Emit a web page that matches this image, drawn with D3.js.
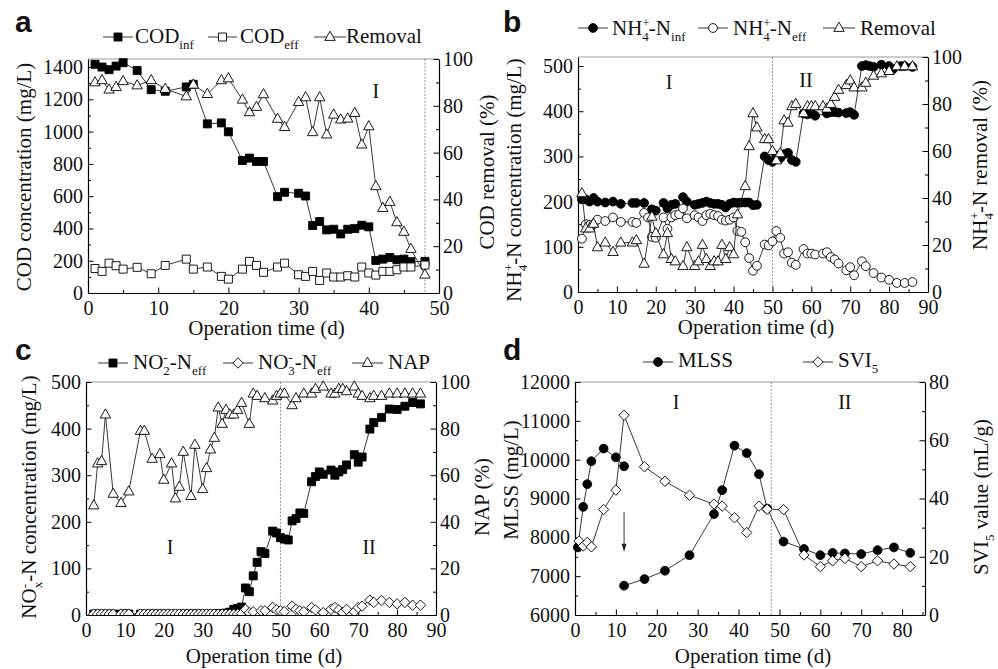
<!DOCTYPE html>
<html>
<head>
<meta charset="utf-8">
<script src="https://cdnjs.cloudflare.com/ajax/libs/d3/7.8.5/d3.min.js"></script>
<style>
  body { margin: 0; background: #fff; }
  text { font-family: 'Liberation Serif', 'Times New Roman', serif; fill: #111; }
</style>
</head>
<body>
<script>
// ---------- panel a : COD ----------
var codDays = [1,2,3,4,5,7,9,11,14,15,17,19,20,22,23,24,25,27,28,30,31,32,33,34,35,36,37,38,39,40,41,42,43,44,45,46,48];
var codInf = [1417,1400,1384,1406,1427,1379,1260,1250,1277,1293,1048,1054,999,821,836,815,815,597,624,618,601,418,443,391,395,366,395,399,420,410,202,210,220,206,210,194,196];
var codEff = [152,134,185,169,148,159,119,171,210,148,161,103,86,148,196,171,128,161,185,113,103,134,78,124,99,99,107,99,161,124,111,134,134,144,161,161,173];
var codRemoval = [90.0,90.9,86.9,88.0,90.5,88.7,90.9,87.2,84.0,89.0,85.0,90.9,91.7,82.6,77.2,79.5,84.9,74.4,70.9,81.6,83.6,68.7,83.6,67.7,76.2,74.1,74.5,76.9,63.4,71.2,45.6,36.3,38.9,30.2,26.1,18.8,7.8];

// ---------- panel b : NH4+-N ----------
var nhInfDays = [1,2,3,4,5,7,9,11,14,15,17,19,20,22,23,24,25,27,28,30,31,32,33,34,35,36,37,38,39,40,41,42,43,44,45,46,48,49,50,51,52,53,54,55,56,58,59,60,61,64,65,66,67,69,70,71,73,74,75,76,78,80,81,83,84,86];
var nhInf = [205,205,200,208,200,198,200,195,197,197,197,183,180,197,185,193,195,210,200,193,195,197,200,197,195,195,193,187,195,198,197,198,198,198,192,193,300,292,288,302,296,305,308,292,288,395,393,395,390,395,398,398,397,396,398,392,500,502,500,498,503,500,493,500,500,498];
var nhEffDays = [1,2,3,4,5,7,9,11,14,15,17,18,19,20,22,23,24,25,26,27,28,30,31,32,33,34,35,36,37,38,39,40,41,42,43,44,45,46,48,49,50,51,52,53,54,55,56,58,59,60,61,63,64,65,66,67,69,70,71,73,74,76,78,80,82,84,86];
var nhEff = [118,150,148,150,160,157,165,155,155,153,175,165,122,120,165,140,165,170,172,185,163,170,165,157,170,173,170,168,160,158,160,165,135,133,110,75,47,58,105,103,112,135,120,85,88,65,60,95,85,85,83,85,88,77,72,63,48,55,37,68,57,42,32,27,20,20,22];
var nhRemDays = [1,2,3,4,5,7,9,11,14,15,17,19,20,22,23,24,25,27,28,30,31,32,33,34,35,36,37,38,39,40,41,43,44,45,46,48,49,50,51,52,53,54,55,56,58,59,60,61,63,64,65,66,67,69,70,71,73,74,76,78,80,82,84,86];
var nhRemoval = [42,27,27,29,19,21,17,21,21,22,12,32,25,16,25,14,13,11,19,11,13,20,14,11,13,13,20,14,19,16,33,45,62,76,70,65,65,60,56,59,73,72,79,80,76,79,79,79,79,78,80,83,86,88,90,87,87,89,92,93,94,96,96,96];

// ---------- panel c : NOx-N and NAP ----------
var no2Days = [2,3,4,5,6,7,9,10,11,14,15,16,17,18,19,20,21,22,23,24,25,26,27,28,29,30,31,32,33,34,35,36,37,38,39,40,41,42,43,44,45,46,48,49,50,51,52,53,54,55,56,58,59,60,61,63,64,65,66,67,69,70,71,73,74,76,78,80,82,84,86];
var no2 = [2,2,2,2,2,2,2,2,2,2,2,2,2,2,2,2,2,2,2,2,2,2,2,2,2,2,2,2,2,3,3,4,6,12,14,17,58,50,84,113,136,132,180,176,166,163,161,202,207,219,218,286,297,307,302,311,300,307,312,322,344,328,339,399,413,424,442,441,448,456,453];
var no3Days = [2,3,4,5,6,7,9,10,11,14,15,16,17,18,19,20,21,22,23,24,25,26,27,28,29,30,31,32,33,34,35,36,37,38,39,40,41,42,43,45,46,48,49,50,51,53,54,55,56,58,59,61,63,64,65,66,67,69,70,71,73,74,76,78,80,82,84,86];
var no3 = [2,2,2,2,2,2,2,2,2,2,2,2,2,2,2,2,2,2,2,2,2,2,2,2,2,2,2,2,2,2,2,2,2,2,2,3,12,5,7,9,9,16,11,9,7,19,12,9,7,16,11,5,12,16,11,5,12,7,16,19,32,27,31,27,24,27,21,21];
var napDays = [2,3,4,5,7,9,11,14,15,17,19,20,22,23,24,25,27,28,30,31,32,33,34,35,36,37,38,39,40,42,43,44,46,48,49,50,51,53,54,56,58,59,61,63,64,65,66,67,69,70,71,73,74,76,78,80,82,84,86];
var nap = [47,65,66,86,52,48,53,79,79,67,69,58,65,50,55,70,51,73,54,63,71,76,89,82,88,86,86,88,91,82,95,94,93,92,94,95,95,90,93,95,95,97,98,95,95,97,97,96,98,95,94,93,94,94,95,95,95,95,95];

// ---------- panel d : MLSS and SVI5 (null = break after sludge discharge) ----------
var mlssDays = [0.7,2,3,4,7,10,12,null,12,17,22,28,34,36,39,42,45,47,51,56,60,63,66,70,74,78,82];
var mlss = [7740,8785,9370,9960,10285,10060,9830,null,6755,6925,7140,7540,8600,9215,10360,10170,9625,8740,7890,7700,7540,7600,7585,7570,7670,7740,7600];
var sviDays = [1,2,3,4,7,10,12,17,22,28,34,36,39,42,45,47,51,56,60,63,66,70,74,78,82];
var svi = [25.4,23.7,24.9,23.4,36.2,42.9,68.6,50.9,45.9,41.1,38.1,37.4,33.4,28.3,37.4,36.3,36.2,20.6,16.6,18.6,19.4,16.6,18.6,17.5,16.6];

var serif = "'Liberation Serif', 'Times New Roman', serif";
var svg = d3.select("body").append("svg").attr("width", 998).attr("height", 669);

function shape(type) {
  if (type == "square") return "M-4,-4h8v8h-8z";
  if (type == "circle") return "M4.4,0A4.4,4.4 0 1,1 -4.4,0A4.4,4.4 0 1,1 4.4,0Z";
  if (type == "triangle") return "M0,-5.8L5.2,3.4L-5.2,3.4Z";
  return "M0,-5.2L5.2,0L0,5.2L-5.2,0Z";
}

// text with sub / superscripts; "subb" puts the subscript under the previous superscript
function rich(t, parts, fs) {
  var cur = 0, prev = null;
  parts.forEach(function(p) {
    var s = typeof p == "string" ? p : p[0];
    var mode = typeof p == "string" ? "" : p[1];
    var target = 0, size = fs, dx = 0;
    if (mode == "sup") { target = -0.36 * fs; size = 0.62 * fs; }
    if (mode == "sub" || mode == "subb") { target = 0.3 * fs; size = 0.62 * fs; }
    if (mode == "subb" && prev) dx = -prev.node().getComputedTextLength();
    prev = t.append("tspan").attr("dy", target - cur).attr("dx", dx)
      .style("font-size", size + "px").text(s);
    cur = target;
  });
}

function drawAxis(g, mk, scale, tr, major, minor, pad) {
  g.append("g").attr("transform", tr)
    .call(mk(scale).tickValues(minor).tickSize(-3).tickFormat(""))
    .call(function(s) { s.select(".domain").remove(); });
  var a = g.append("g").attr("transform", tr)
    .call(mk(scale).tickValues(major).tickSizeInner(-5.5).tickSizeOuter(0)
      .tickPadding(pad).tickFormat(d3.format("d")));
  a.attr("font-family", serif).attr("font-size", 20);
  a.selectAll("text").attr("fill", "#111");
  a.select(".domain").attr("stroke-width", 1.2);
  g.selectAll(".tick line").attr("stroke-width", 1);
}

function panel(p) {
  var x = d3.scaleLinear().domain(p.xDom).range([p.l, p.r]);
  var yL = d3.scaleLinear().domain(p.yLDom).range([p.b, p.t]);
  var yR = d3.scaleLinear().domain(p.yRDom).range([p.b, p.t]);
  var g = svg.append("g");
  g.append("line").attr("x1", p.l).attr("x2", p.r).attr("y1", p.t).attr("y2", p.t)
    .attr("stroke", "#999").attr("stroke-width", 1);
  drawAxis(g, d3.axisBottom, x, "translate(0," + p.b + ")", p.xTicks, p.xMinor, 8);
  drawAxis(g, d3.axisLeft, yL, "translate(" + p.l + ",0)", p.yLTicks, p.yLMinor, 5);
  drawAxis(g, d3.axisRight, yR, "translate(" + p.r + ",0)", p.yRTicks, p.yRMinor, 4);
  // phase divider
  g.append("line").attr("x1", x(p.divide)).attr("x2", x(p.divide)).attr("y1", p.t).attr("y2", p.b)
    .attr("stroke", "#777").attr("stroke-width", 0.8).attr("stroke-dasharray", "2,1.5");
  var cx = (p.l + p.r) / 2 + 3;
  g.append("text").attr("x", cx).attr("y", p.b + p.titleOff).attr("text-anchor", "middle")
    .style("font-size", "21px").text("Operation time (d)");
  var tl = g.append("text").attr("text-anchor", "middle")
    .attr("transform", "translate(" + p.ltX + "," + p.ltY + ") rotate(-90)");
  rich(tl, p.lTitle, 21);
  var tr = g.append("text").attr("text-anchor", "middle")
    .attr("transform", "translate(" + p.rtX + "," + p.rtY + ") rotate(-90)");
  rich(tr, p.rTitle, 21);
  g.append("text").attr("x", p.letterX).attr("y", p.letterY)
    .style("font-family", "'Liberation Sans', Arial, sans-serif").style("font-weight", "bold")
    .style("font-size", "30px").text(p.letter);
  var plot = g.append("g");
  if (p.clip) {
    svg.append("clipPath").attr("id", p.clip).append("rect")
      .attr("x", p.l).attr("y", p.t - 8).attr("width", p.r - p.l).attr("height", p.b - p.t + 8);
    plot.attr("clip-path", "url(#" + p.clip + ")");
  }
  return { g: g, plot: plot, x: x, yL: yL, yR: yR };
}

function series(g, x, y, days, vals, type, filled) {
  var pts = days.map(function(d, i) { return [d, vals[i]]; });
  g.append("path").datum(pts)
    .attr("d", d3.line().defined(function(d) { return d[0] != null && d[1] != null; })
      .x(function(d) { return x(d[0]); }).y(function(d) { return y(d[1]); }))
    .attr("fill", "none").attr("stroke", "#222").attr("stroke-width", 0.9);
  g.selectAll(null).data(pts.filter(function(d) { return d[1] != null; })).enter()
    .append("path").attr("d", shape(type))
    .attr("transform", function(d) { return "translate(" + x(d[0]) + "," + y(d[1]) + ")"; })
    .attr("fill", filled ? "#000" : "#fff").attr("stroke", "#000").attr("stroke-width", 0.9);
}

function legendItem(x0, x1, y, type, filled, parts, tx, ty) {
  svg.append("line").attr("x1", x0).attr("x2", x1).attr("y1", y).attr("y2", y)
    .attr("stroke", "#222").attr("stroke-width", 0.9);
  svg.append("path").attr("d", shape(type))
    .attr("transform", "translate(" + ((x0 + x1) / 2) + "," + y + ")")
    .attr("fill", filled ? "#000" : "#fff").attr("stroke", "#000").attr("stroke-width", 0.9);
  rich(svg.append("text").attr("x", tx).attr("y", ty), parts, 21);
}

function phaseLabel(P, d, v, s) {
  P.g.append("text").attr("x", P.x(d)).attr("y", P.yR(v)).attr("dy", "0.35em")
    .attr("text-anchor", "middle").style("font-size", "20px").text(s);
}

// ---------- a ----------
var A = panel({ l: 88, r: 439, t: 59, b: 293, xDom: [0, 50], yLDom: [0, 1450], yRDom: [0, 100],
  xTicks: d3.range(0, 51, 10), xMinor: d3.range(5, 50, 10),
  yLTicks: d3.range(0, 1401, 200), yLMinor: d3.range(100, 1450, 200),
  yRTicks: d3.range(0, 101, 20), yRMinor: d3.range(10, 100, 20),
  divide: 48, titleOff: 42, letter: "a", letterX: 15, letterY: 32,
  ltX: 31, ltY: 177, lTitle: ["COD concentration (mg/L)"],
  rtX: 494, rtY: 172, rTitle: ["COD removal (%)"] });
series(A.plot, A.x, A.yL, codDays, codInf, "square", true);
series(A.plot, A.x, A.yL, codDays, codEff, "square", false);
series(A.plot, A.x, A.yR, codDays, codRemoval, "triangle", false);
phaseLabel(A, 41, 86.5, "I");
legendItem(103, 133, 37, "square", true, ["COD", ["inf", "sub"]], 135, 43);
legendItem(208, 237, 37, "square", false, ["COD", ["eff", "sub"]], 240, 43);
legendItem(314, 346, 37, "triangle", false, [" Removal"], 346, 43);

// ---------- b ----------
var B = panel({ l: 578, r: 928, t: 57, b: 292, xDom: [0, 90], yLDom: [0, 520], yRDom: [0, 100],
  xTicks: d3.range(0, 91, 10), xMinor: d3.range(5, 90, 10),
  yLTicks: d3.range(0, 501, 100), yLMinor: d3.range(50, 520, 100),
  yRTicks: d3.range(0, 101, 20), yRMinor: d3.range(10, 100, 20),
  divide: 50, titleOff: 42, letter: "b", letterX: 503, letterY: 32,
  ltX: 521, ltY: 180, lTitle: ["NH", ["+", "sup"], ["4", "subb"], "-N concentration (mg/L)"],
  rtX: 987, rtY: 165, rTitle: ["NH", ["+", "sup"], ["4", "subb"], "-N removal  (%)"] });
series(B.plot, B.x, B.yL, nhInfDays, nhInf, "circle", true);
series(B.plot, B.x, B.yL, nhEffDays, nhEff, "circle", false);
series(B.plot, B.x, B.yR, nhRemDays, nhRemoval, "triangle", false);
phaseLabel(B, 23.4, 89.4, "I");
phaseLabel(B, 58.6, 90.2, "II");
legendItem(578, 608, 28, "circle", true, ["NH", ["+", "sup"], ["4", "subb"], "-N", ["inf", "sub"]], 612, 35);
legendItem(698, 728, 28, "circle", false, ["NH", ["+", "sup"], ["4", "subb"], "-N", ["eff", "sub"]], 733, 35);
legendItem(823, 855, 28, "triangle", false, ["Removal"], 860, 35);

// ---------- c ----------
var C = panel({ l: 86, r: 436, t: 382, b: 615, xDom: [0, 90], yLDom: [0, 500], yRDom: [0, 100],
  xTicks: d3.range(0, 91, 10), xMinor: d3.range(5, 90, 10),
  yLTicks: d3.range(0, 501, 100), yLMinor: d3.range(50, 500, 100),
  yRTicks: d3.range(0, 101, 20), yRMinor: d3.range(10, 100, 20),
  divide: 50, titleOff: 48, letter: "c", letterX: 15, letterY: 360, clip: "clipC",
  ltX: 36, ltY: 497, lTitle: ["NO", ["-", "sup"], ["x", "subb"], "-N concentration (mg/L)"],
  rtX: 489, rtY: 497, rTitle: ["NAP (%)"] });
series(C.plot, C.x, C.yL, no2Days, no2, "square", true);
series(C.plot, C.x, C.yL, no3Days, no3, "diamond", false);
series(C.plot, C.x, C.yR, napDays, nap, "triangle", false);
phaseLabel(C, 21.6, 29.2, "I");
phaseLabel(C, 72.8, 29.2, "II");
legendItem(98, 128, 363, "square", true, ["NO", ["-", "sup"], ["2", "subb"], "-N", ["eff", "sub"]], 133, 369);
legendItem(223, 253, 363, "diamond", false, ["NO", ["-", "sup"], ["3", "subb"], "-N", ["eff", "sub"]], 258, 369);
legendItem(352, 383, 363, "triangle", false, ["NAP"], 388, 369);

// ---------- d ----------
var D = panel({ l: 575, r: 925, t: 382, b: 615, xDom: [0, 85.6], yLDom: [6000, 12000], yRDom: [0, 80],
  xTicks: d3.range(0, 81, 10), xMinor: d3.range(5, 86, 10),
  yLTicks: d3.range(6000, 12001, 1000), yLMinor: d3.range(6500, 12000, 1000),
  yRTicks: d3.range(0, 81, 20), yRMinor: d3.range(10, 80, 20),
  divide: 48, titleOff: 48, letter: "d", letterX: 503, letterY: 360,
  ltX: 518, ltY: 480, lTitle: ["MLSS  (mg/L)"],
  rtX: 988, rtY: 497, rTitle: ["SVI", ["5", "sub"], " value (mL/g)"] });
series(D.plot, D.x, D.yL, mlssDays, mlss, "circle", true);
series(D.plot, D.x, D.yR, sviDays, svi, "diamond", false);
phaseLabel(D, 24.7, 73.2, "I");
phaseLabel(D, 66, 73.2, "II");
// sludge discharge arrow
var ax = D.x(12), ay0 = D.yL(8650), ay1 = D.yL(7630);
D.g.append("line").attr("x1", ax).attr("x2", ax).attr("y1", ay0).attr("y2", ay1 - 6)
  .attr("stroke", "#222").attr("stroke-width", 0.9);
D.g.append("path").attr("d", "M" + ax + "," + ay1 + "l-2.5,-8l5,0z").attr("fill", "#222");
legendItem(643, 673, 362, "circle", true, ["MLSS"], 678, 367);
legendItem(803, 833, 362, "diamond", false, ["SVI", ["5", "sub"]], 838, 367);
</script>
</body>
</html>
